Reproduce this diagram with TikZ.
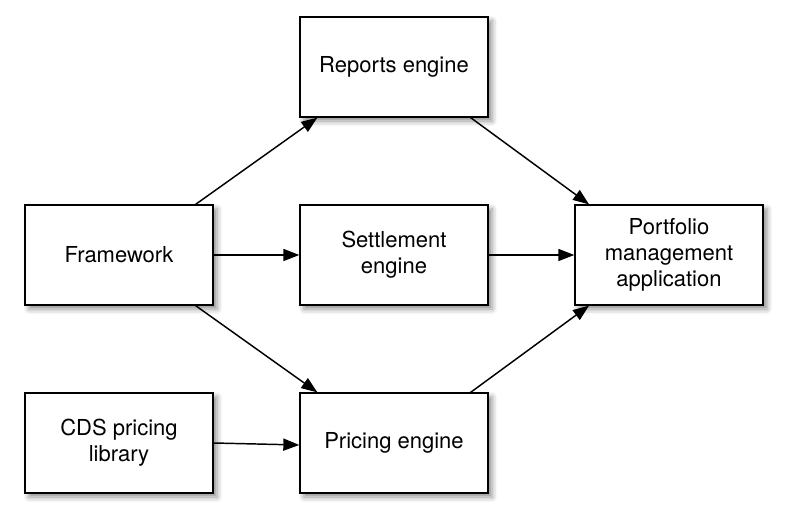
\documentclass[tikz,border=0pt]{standalone}
\usepackage{fontspec}
\setmainfont{TeX Gyre Heros}
\usetikzlibrary{arrows.meta,shadows.blur}

\begin{document}
\begin{tikzpicture}[x=0.75pt,y=-0.75pt,
	box/.style={draw, line width=1pt, fill=white, minimum width=141pt, minimum height=75pt, align=center,
		font=\fontsize{16.5}{19.5}\selectfont,
		blur shadow={shadow xshift=3pt, shadow yshift=-3pt, shadow blur radius=4pt, shadow opacity=45}},
	link/.style={line width=1.1pt, -{Triangle[length=12pt,width=9pt]}}]
	\useasboundingbox (0,0) rectangle (786,523);
	\node[box](R) at (394,67){Reports engine};
	\node[box](F) at (119,255){Framework};
	\node[box](S) at (394,255){Settlement\\engine};
	\node[box](P) at (669,255){Portfolio\\management\\application};
	\node[box](C) at (119,443){CDS pricing\\library};
	\node[box](E) at (394,443){Pricing engine};
	\draw [link] ([xshift=-13.5pt]F.north east) -- ([xshift=13.5pt]R.south west);
	\draw [link] (F) -- (S);
	\draw [link] ([xshift=-13.5pt]F.south east) -- ([xshift=13.5pt]E.north west);
	\draw [link] (C.east) -- ([yshift=-1.5pt]E.west);
	\draw [link] ([xshift=-13.5pt]R.south east) -- ([xshift=11pt]P.north west);
	\draw [link] (S) -- (P);
	\draw [link] ([xshift=-13.5pt]E.north east) -- ([xshift=11pt]P.south west);
\end{tikzpicture}
\end{document}
